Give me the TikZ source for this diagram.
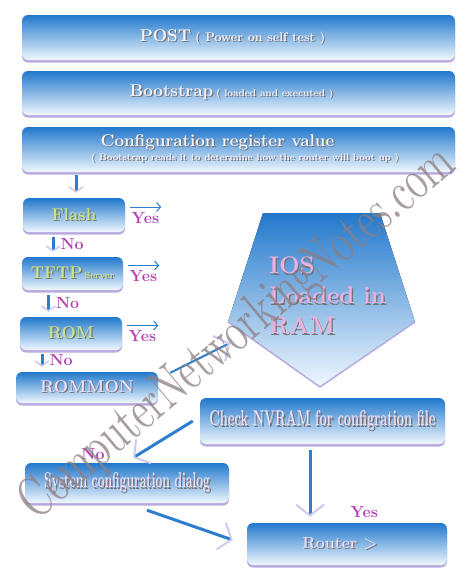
\documentclass[tikz,border=0pt]{standalone}
\usepackage{tikz}
\usetikzlibrary{arrows.meta,calc,positioning}
\definecolor{boxblue}{RGB}{34,120,204}
\definecolor{boxpale}{RGB}{240,248,254}
\definecolor{boxrim}{RGB}{184,170,222}
\definecolor{yesno}{RGB}{182,60,184}
\definecolor{shaft}{RGB}{46,126,206}
\definecolor{tiplav}{RGB}{206,202,238}
\definecolor{txtwhite}{RGB}{246,242,252}
\definecolor{txtgreen}{RGB}{200,228,136}
\definecolor{txtlav}{RGB}{236,222,246}
\definecolor{txtpink}{RGB}{238,176,220}
\definecolor{markgray}{RGB}{140,126,130}
\newcommand{\shadowed}[2]{\makebox[0pt][l]{\hspace{1.2pt}\raisebox{-1.2pt}{\color{black!55}#2}}{\color{#1}#2}}
\tikzset{
  stage/.style={rounded corners=6pt, shading=axis, top color=boxblue, bottom color=boxpale,
    inner sep=0pt, font=\bfseries,
    preaction={fill=boxrim, transform canvas={yshift=-2.5pt}}},
  bigflow/.style={draw=shaft, line width=3pt,
    -{Straight Barb[length=11pt,width=28pt,line width=2pt,color=tiplav]}},
  noflow/.style={draw=shaft, line width=3pt,
    -{Straight Barb[length=5pt,width=14pt,line width=1.5pt,color=tiplav]}},
  yesflow/.style={draw=shaft, line width=1pt,
    -{Straight Barb[length=4pt,width=9pt,line width=1pt]}},
  answer/.style={text=yesno, font=\bfseries\fontsize{16}{16}\selectfont, inner sep=1pt}
}
\begin{document}
\begin{tikzpicture}[x=1pt,y=-1pt]
  \fill[white] (0,0) rectangle (474,581);
  \useasboundingbox (0,0) rectangle (474,581);
  % the three first stages
  \node[stage,minimum width=433pt,minimum height=45pt] (post) at (238.5,37.5)
    {\fontsize{17}{17}\selectfont\shadowed{txtwhite}{POST}\hspace{4pt}\fontsize{12.5}{12.5}\selectfont\shadowed{txtwhite}{( Power on self test )}\hspace*{12pt}};
  \node[stage,minimum width=433pt,minimum height=44pt] (boot) at (238.5,93)
    {\fontsize{17}{17}\selectfont\shadowed{txtwhite}{Bootstrap}\hspace{3pt}\fontsize{9.8}{9.8}\selectfont\shadowed{txtwhite}{( loaded and executed )}\hspace*{14pt}};
  \node[stage,minimum width=433pt,minimum height=45pt,align=center] (conf) at (238.5,149.5)
    {{\fontsize{17}{17}\selectfont\shadowed{txtwhite}{Configuration register value}\hspace*{42pt}}\\[2pt]
     {\hspace*{13pt}\fontsize{9.3}{9.3}\selectfont\shadowed{txtwhite}{( Bootstrap reads it to determine how the router will boot up )}}};
  % where the IOS is looked for
  \node[stage,minimum width=102pt,minimum height=34pt] (flash) at (74,215)
    {\fontsize{17}{17}\selectfont\shadowed{txtgreen}{Flash}};
  \node[stage,minimum width=101pt,minimum height=33pt] (tftp) at (72.5,273.5)
    {\fontsize{17}{17}\selectfont\shadowed{txtgreen}{TFTP}\hspace{2pt}\fontsize{9}{9}\selectfont\shadowed{txtgreen}{Server}};
  \node[stage,minimum width=102pt,minimum height=33pt] (rom) at (71,333.5)
    {\fontsize{17}{17}\selectfont\shadowed{txtgreen}{ROM}};
  \node[stage,minimum width=142pt,minimum height=31pt] (rommon) at (87,387.5)
    {\fontsize{17}{17}\selectfont\shadowed{txtlav}{ROMMON}};
  % pentagon
  \coordinate (ios-nw) at (263,213);
  \coordinate (ios-ne) at (380,213);
  \coordinate (ios-e) at (415,322);
  \coordinate (ios-s) at (320,387);
  \coordinate (ios-w) at (228,322);
  \coordinate (ios-in) at (230,343);
  \fill[top color=boxblue,bottom color=boxpale] (ios-nw) -- (ios-ne) -- (ios-e) -- (ios-s) -- (ios-w) -- cycle;
  \draw[boxrim,line width=1.5pt,line join=round] (ios-e) -- (ios-s) -- (ios-w);
  \node[anchor=north west,align=left,inner sep=0pt,font=\bfseries\fontsize{24}{30}\selectfont] (ios) at (269,257)
    {\shadowed{txtpink}{IOS}\\\shadowed{txtpink}{Loaded in}\\\shadowed{txtpink}{RAM}};
  % after the IOS
  \node[stage,minimum width=245pt,minimum height=46pt] (nvram) at (322.5,421)
    {\resizebox{226pt}{15pt}{\shadowed{txtlav}{Check NVRAM for configration file}}};
  \node[stage,minimum width=204pt,minimum height=40pt] (sysconf) at (127,483)
    {\resizebox{166pt}{15pt}{\shadowed{txtlav}{System configuration dialog}}};
  \node[stage,minimum width=200pt,minimum height=42pt] (router) at (347,544)
    {\fontsize{16}{16}\selectfont\shadowed{txtlav}{Router >}\hspace*{14pt}};
  % connectors
  \draw[noflow] ([xshift=2pt,yshift=-3pt]conf.south -| flash.north) -- ([xshift=2pt,yshift=5pt]flash.north);
  \draw[noflow] ([xshift=-21pt,yshift=-5pt]flash.south) -- ([xshift=-21pt,yshift=5pt]flash.south |- tftp.north)
    node[answer,midway,right=5pt] {No};
  \draw[noflow] ([xshift=-24pt,yshift=-5pt]tftp.south) -- ([xshift=-24pt,yshift=5pt]tftp.south |- rom.north)
    node[answer,midway,right=5pt] {No};
  \draw[noflow] ([xshift=-29pt,yshift=-4pt]rom.south) -- ([xshift=-29pt,yshift=5pt]rom.south |- rommon.north)
    node[answer,midway,right=5pt] {No};
  \foreach \stagename in {flash,tftp,rom}
    \draw[yesflow] ([xshift=5pt,yshift=8pt]\stagename.east) -- ++(31,0)
      node[answer,pos=0,anchor=north west,yshift=-4pt] {Yes};
  \draw[bigflow,line width=2pt] ([xshift=12pt,yshift=-1pt]rommon.north east) -- (ios-in);
  \draw[bigflow] ([xshift=-7pt]nvram.west) -- ([xshift=6pt,yshift=5pt]sysconf.north)
    node[answer,pos=1,anchor=south,xshift=-40pt,yshift=-4pt] {No};
  \draw[bigflow] ([yshift=-6pt]nvram.south -| 310,0) -- ([yshift=6pt]router.north -| 310,0)
    node[answer,pos=0.93,right=38pt] {Yes};
  \draw[bigflow] ([xshift=20pt,yshift=-7pt]sysconf.south) -- ([xshift=-14pt,yshift=4pt]router.west);
  % watermark
  \node[rotate=40,text=markgray,opacity=0.75,inner sep=0pt] (mark) at (238,334)
    {\resizebox{550pt}{40pt}{ComputerNetworkingNotes.com}};
\end{tikzpicture}
\end{document}
